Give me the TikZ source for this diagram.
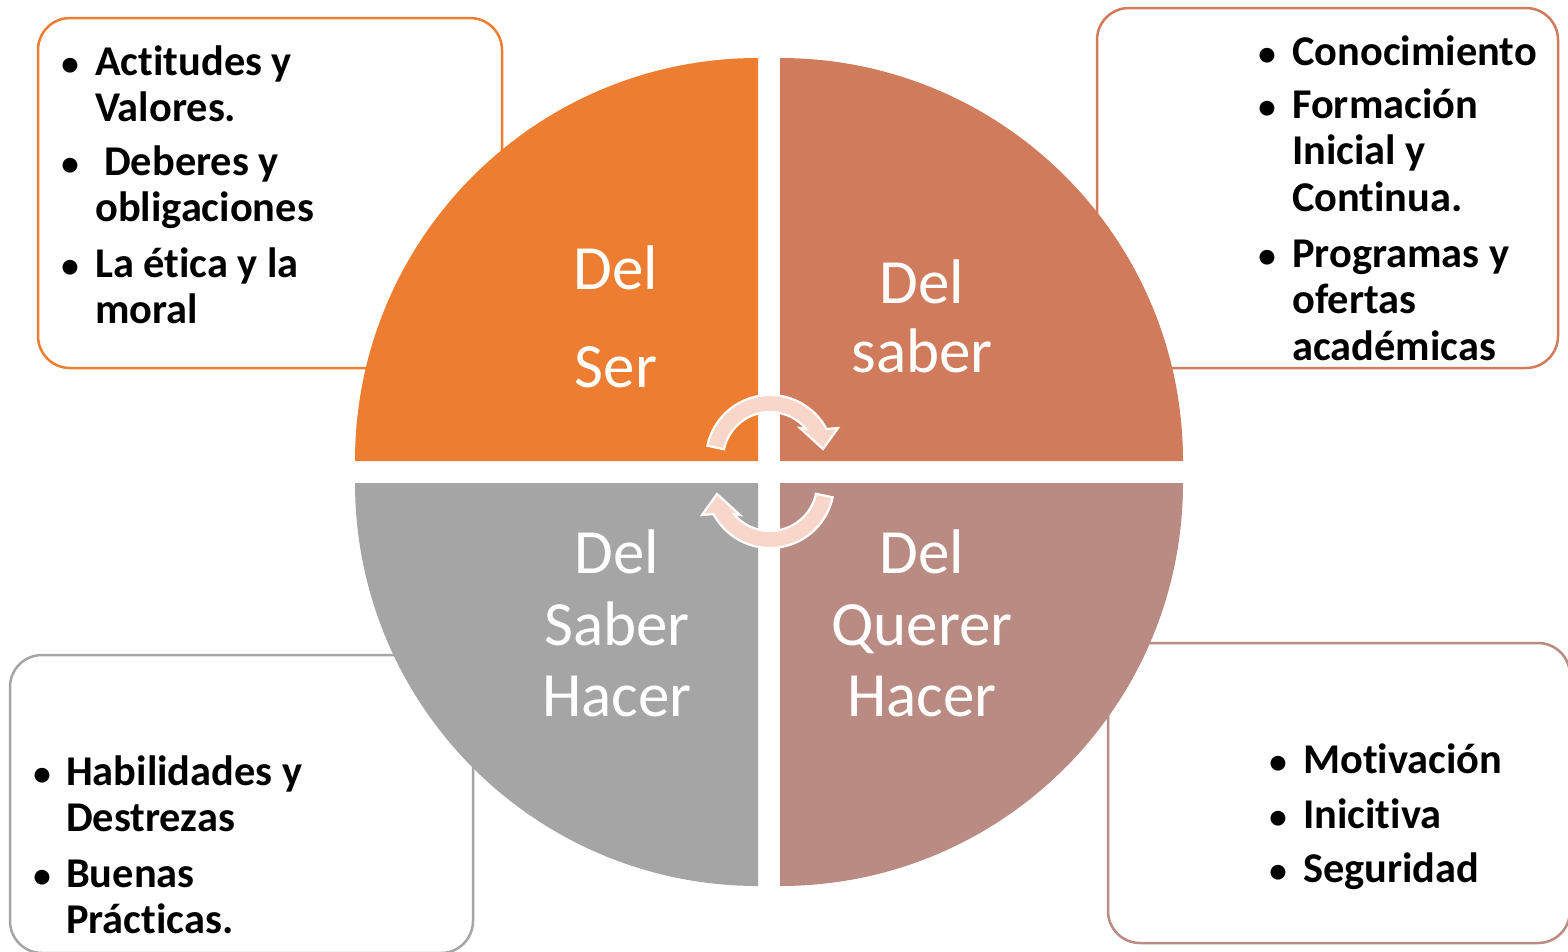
\documentclass[tikz,border=0pt]{standalone}
\usepackage{fontspec}
\setmainfont{Carlito}[Ligatures=NoCommon]
\definecolor{cOr}{HTML}{ED7D31}
\definecolor{cTR}{HTML}{D17B5D}
\definecolor{cBR}{HTML}{B98B82}
\definecolor{cBL}{HTML}{A5A5A5}
\definecolor{cArr}{HTML}{F8D6CA}
\tikzset{
  infobox/.style={line width=2.5pt, rounded corners=32pt, fill=white},
  bul/.style={anchor=base, inner sep=0pt, font=\fontsize{35}{46.5}\selectfont\bfseries},
  itemtxt/.style={anchor=base west, inner sep=0pt, font=\fontsize{42.4}{46.5}\selectfont\bfseries},
  quadlbl/.style={anchor=base, inner sep=0pt, text=white, font=\fontsize{63}{72}\selectfont},
  cycarrow/.style={fill=cArr, draw=white, line width=2.2pt, line join=miter},
}
\newcommand{\twoln}[2]{\vtop{\hbox{#1}\hbox{#2}}}
\newcommand{\threeln}[3]{\vtop{\hbox{#1}\hbox{#2}\hbox{#3}}}
\begin{document}
\begin{tikzpicture}[x=1pt,y=-1pt]
\useasboundingbox (0,0) rectangle (1568,951);
\fill[white] (0,0) rectangle (1568,951);

% boxes
\draw[infobox, draw=cOr] (38,18) rectangle (502,368);
\draw[infobox, draw=cTR] (1097,8) rectangle (1558,368);
\draw[infobox, draw=cBL] (10,655) rectangle (473,953);
\draw[infobox, draw=cBR] (1108,643) rectangle (1570,943);

% quadrants
\fill[cOr] (758,461) -- (355,461) arc[start angle=180, end angle=270, radius=403] -- cycle;
\fill[cTR] (780,461) -- (780,58) arc[start angle=270, end angle=360, radius=403] -- cycle;
\fill[cBR] (780,483) -- (1183,483) arc[start angle=0, end angle=90, radius=403] -- cycle;
\fill[cBL] (758,483) -- (758,886) arc[start angle=90, end angle=180, radius=403] -- cycle;

% circular arrows
\path[cycarrow] (707.4,445.7) arc[start angle=192, end angle=332, radius=64]
  -- (838,428) -- (823,449) -- (800,428) -- (806,428.8)
  arc[start angle=320, end angle=192, radius=47] -- cycle;
\begin{scope}[rotate around={180:(770,471.5)}]
\path[cycarrow] (707.4,445.7) arc[start angle=192, end angle=332, radius=64]
  -- (838,428) -- (823,449) -- (800,428) -- (806,428.8)
  arc[start angle=320, end angle=192, radius=47] -- cycle;
\end{scope}

% quadrant labels
\node[quadlbl] (serA) at (616,289) {Del};
\node[quadlbl] (serB) at (616,387) {Ser};
\node[quadlbl] (sabA) at (922,303) {Del};
\node[quadlbl] (sabB) at (922,372) {saber};
\node[quadlbl] (shA) at (617,573) {Del};
\node[quadlbl] (shB) at (617,645) {Saber};
\node[quadlbl] (shC) at (617,716) {Hacer};
\node[quadlbl] (qhA) at (922,573) {Del};
\node[quadlbl] (qhB) at (922,645) {Querer};
\node[quadlbl] (qhC) at (922,716) {Hacer};

% top-left box
\node[bul] (tlb1) at (70,75) {•};
\node[itemtxt] (tlt1) at (95,75) {\twoln{Actitudes y}{Valores.}};
\node[bul] (tlb2) at (70,175) {•};
\node[itemtxt] (tlt2) at (95,175) {\twoln{\hspace{9pt}Deberes y}{obligaciones}};
\node[bul] (tlb3) at (70,277) {•};
\node[itemtxt] (tlt3) at (95,277) {\twoln{La ética y la}{moral}};

% top-right box
\node[bul] (trb1) at (1267,65) {•};
\node[itemtxt] (trt1) at (1292,65) {Conocimiento};
\node[bul] (trb2) at (1267,118) {•};
\node[itemtxt] (trt2) at (1292,118) {\threeln{Formación}{Inicial y}{Continua.}};
\node[bul] (trb3) at (1267,267) {•};
\node[itemtxt] (trt3) at (1292,267) {\threeln{Programas y}{ofertas}{académicas}};

% bottom-left box
\node[bul] (blb1) at (42,785) {•};
\node[itemtxt] (blt1) at (66,785) {\twoln{Habilidades y}{Destrezas}};
\node[bul] (blb2) at (42,887) {•};
\node[itemtxt] (blt2) at (66,887) {\twoln{Buenas}{Prácticas.}};

% bottom-right box
\node[bul] (brb1) at (1278,773) {•};
\node[itemtxt] (brt1) at (1303,773) {Motivación};
\node[bul] (brb2) at (1278,828) {•};
\node[itemtxt] (brt2) at (1303,828) {Inicitiva};
\node[bul] (brb3) at (1278,882) {•};
\node[itemtxt] (brt3) at (1303,882) {Seguridad};
\end{tikzpicture}
\end{document}
